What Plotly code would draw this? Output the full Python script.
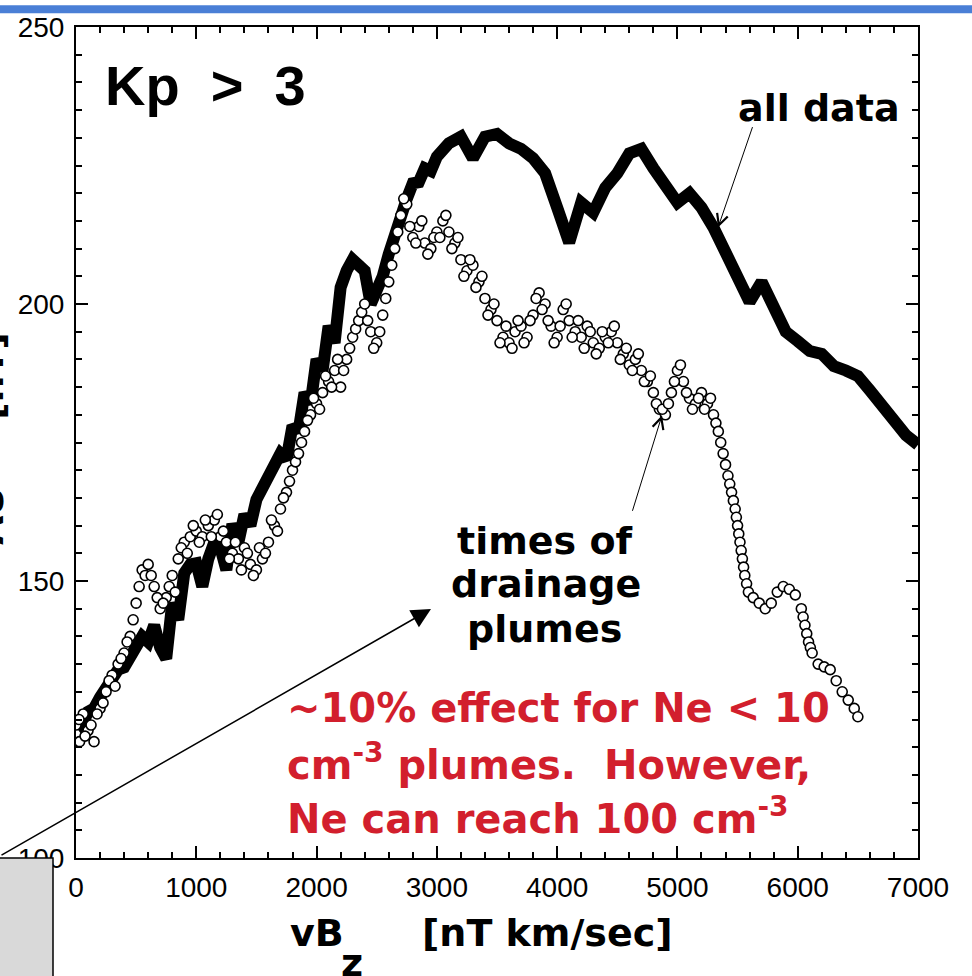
import plotly.graph_objects as go

# ---------------- data ----------------
all_x = [0, 50, 100, 150, 200, 250, 300, 350, 400, 450, 500, 550, 600, 650, 700, 750,
         800, 850, 900, 950, 1000, 1050, 1100, 1150, 1200, 1250, 1300, 1350, 1400, 1450,
         1500, 1550, 1600, 1650, 1700, 1750, 1800, 1850, 1900, 1950, 2000, 2050, 2100,
         2150, 2200, 2250, 2300, 2350, 2400, 2450, 2500, 2550, 2600, 2650, 2700, 2750,
         2800, 2850, 2900, 2950, 3000, 3100, 3200, 3300, 3400, 3500, 3600, 3700, 3800,
         3900, 4000, 4100, 4200, 4300, 4400, 4500, 4600, 4700, 4800, 4900, 5000, 5100,
         5200, 5300, 5400, 5500, 5600, 5700, 5800, 5900, 6000, 6100, 6200, 6300, 6400,
         6500, 6600, 6700, 6800, 6900, 7000]
all_y = [125.5, 124, 126.4, 127, 129, 131, 132.6, 134, 134.4, 136, 137.5, 140, 139, 142,
         138, 136, 146, 143, 151.4, 153, 153.2, 149, 154, 157, 156, 152, 160.3, 157, 162,
         160, 164.7, 167, 169, 171, 173, 172, 178, 177, 184, 182, 190, 188, 196, 193, 203,
         206, 208, 207, 206, 200, 202, 205, 209, 213, 216.5, 219, 221.8, 222, 224.5, 224,
         226.6, 229, 230.2, 226.3, 230.2, 230.7, 229, 228, 226.3, 223.6, 217.4, 211.1,
         218.3, 216.5, 221, 223.6, 227.2, 228, 224.5, 221.8, 218.3, 220, 217.4, 213.8,
         209.3, 204, 200.4, 204, 199.5, 195, 193.3, 191.5, 191, 188.8, 188, 187, 184.4,
         181.7, 179, 176.3, 174.6]

plume_x = [0, 30, 60, 100, 150, 200, 250, 300, 350, 400, 450, 475, 500, 525, 550, 600,
           650, 700, 750, 800, 850, 900, 950, 1000, 1050, 1100, 1150, 1200, 1250, 1300,
           1350, 1400, 1450, 1500, 1550, 1600, 1650, 1700, 1750, 1775, 1800, 1825, 1850,
           1900, 1950, 2000, 2050, 2100, 2150, 2200, 2250, 2300, 2325, 2350, 2375, 2400,
           2450, 2500, 2550, 2575, 2600, 2625, 2650, 2675, 2700, 2750, 2800, 2850, 2900,
           2950, 3000, 3050, 3100, 3150, 3200, 3250, 3300, 3350, 3400, 3450, 3500, 3550,
           3600, 3650, 3700, 3750, 3800, 3850, 3900, 3950, 4000, 4050, 4100, 4150, 4200,
           4250, 4300, 4350, 4400, 4450, 4500, 4550, 4600, 4650, 4700, 4750, 4800, 4850,
           4900, 4950, 5000, 5050, 5100, 5150, 5200, 5250, 5300, 5320, 5340, 5360, 5380,
           5400, 5420, 5435, 5450, 5465, 5480, 5490, 5500, 5510, 5520, 5530, 5540, 5550,
           5560, 5575, 5590, 5630, 5680, 5730, 5780, 5830, 5880, 5930, 5980, 6030, 6045,
           6060, 6075, 6090, 6105, 6120, 6170, 6220, 6270, 6320, 6370, 6420, 6470, 6500]
plume_y = [124, 121, 126, 123, 121, 127, 130, 133, 135, 137, 140, 143, 146, 149, 152, 153,
           149, 145, 147, 151, 154, 157, 158, 159, 158, 160, 161, 158, 157, 155,
           154, 156, 153, 152, 154, 157, 160, 163, 166, 168, 170, 171.5, 173,
           177, 180, 182, 184, 186, 188, 185, 190, 194, 195.5, 197, 198.5, 200,
           195, 193, 198, 201, 204, 207, 210, 213, 216, 218, 212, 214, 211,
           210, 213, 215, 213, 211, 208, 206, 207, 204, 201, 199, 197, 194,
           193, 195, 196, 194, 198, 202, 200, 196, 194, 199, 197, 195, 194,
           196, 193, 192, 194, 195, 193, 191, 189, 190, 188, 186, 184, 181,
           180, 184, 188, 186, 183, 182, 184, 182, 180, 178.5, 177, 175, 173,
           171, 169, 167.5, 166, 164.5, 163, 161.5, 160, 158.5, 157, 155.5, 154, 152.5,
           151, 149.5, 148, 147, 146, 145, 146, 148, 149, 148.5, 147.5, 145, 143.5,
           142, 140.5, 139, 138, 137, 135, 134.5, 134, 132, 130, 128.5, 127, 125.5]

# extra overlapping circles in the dense parts of the plume band
plume_extra_x = [25, 75, 125, 175, 225, 275, 325, 375, 425, 575, 625, 675, 725, 775,
                 825, 875, 925, 975, 1025, 1075, 1125, 1175, 1225, 1275, 1325, 1375,
                 1425, 1475, 1525, 1575, 1625, 1675, 1725, 1875, 1925, 1975, 2025, 2075,
                 2125, 2175, 2225, 2275, 2425, 2475, 2525, 2725, 2775, 2825, 2875, 2925,
                 2975, 3025, 3075, 3125, 3175, 3225, 3275, 3325, 3375, 3425, 3475, 3525,
                 3575, 3625, 3675, 3725, 3775, 3825, 3875, 3925, 3975, 4025, 4075, 4125,
                 4175, 4225, 4275, 4325, 4375, 4425, 4475, 4525, 4575, 4625, 4675, 4725,
                 4775, 4825, 4875, 4925, 4975, 5025, 5075, 5125, 5175, 5225, 5275]
plume_extra_y = [125, 122, 124, 126, 128, 132, 131, 136, 139, 151, 151, 147, 146, 149,
                 148, 156, 155, 160, 157, 161, 158, 162, 159, 154, 157, 152,
                 155, 151, 156, 155, 161, 159, 165, 175, 179, 183, 181, 187,
                 185, 190, 188, 192, 197, 192, 195, 219, 214, 211, 215, 209,
                 212, 212, 216, 210, 212, 205, 208, 203, 205, 198, 200, 193,
                 196, 192, 197, 193, 197, 201, 199, 197, 193, 196, 200, 194,
                 197, 192, 195, 191, 195, 193, 196, 190, 192, 188, 191, 186,
                 187, 182, 181, 182, 186, 189, 184, 181, 183, 181, 183]

x_ticks = [0, 1000, 2000, 3000, 4000, 5000, 6000, 7000]
y_ticks = [100, 150, 200, 250]

# ---------------- layout helpers (pixel -> paper) ----------------
L, R, T, B = 76, 918, 17, 858


def PX(px):
    return (px - L) / (R - L)


def PY(py):
    return (B - py) / (B - T)


fig = go.Figure()
fig.add_trace(go.Scatter(x=all_x, y=all_y, mode="lines",
                         line=dict(color="black", width=12), showlegend=False))
fig.add_trace(go.Scatter(x=plume_x + plume_extra_x, y=plume_y + plume_extra_y, mode="markers",
                         marker=dict(symbol="circle", size=10, color="white",
                                     line=dict(color="black", width=1.6)),
                         showlegend=False))

axis_common = dict(showline=True, linewidth=2, linecolor="black", mirror="allticks",
                   ticks="inside", ticklen=12, tickwidth=2, tickcolor="black",
                   showgrid=False, zeroline=False,
                   tickfont=dict(family="Liberation Sans", size=28, color="black"))

fig.update_xaxes(range=[0, 7000], tickmode="array", tickvals=x_ticks,
                 ticktext=[str(v) for v in x_ticks], ticklabelstandoff=3,
                 minor=dict(dtick=200, tick0=0, ticks="inside", ticklen=6, tickwidth=1.5,
                            tickcolor="black", showgrid=False),
                 **axis_common)
fig.update_yaxes(range=[100, 250], tickmode="array", tickvals=y_ticks,
                 ticktext=[str(v) for v in y_ticks], ticklabelstandoff=4,
                 minor=dict(dtick=5, tick0=100, ticks="inside", ticklen=6, tickwidth=1.5,
                            tickcolor="black", showgrid=False),
                 **axis_common)

BOLD = "DejaVu Sans"
RED = "#d21f2d"
ann = []


def text(px, py, s, size, color="black", family=BOLD, xanchor="center", angle=0):
    ann.append(dict(xref="paper", yref="paper", x=PX(px), y=PY(py), text="<b>" + s + "</b>",
                    showarrow=False, xanchor=xanchor, yanchor="middle", textangle=angle,
                    font=dict(family=family, size=size, color=color)))


text(103, 76, "Kp\u00a0\u00a0>\u00a0\u00a03", 56, family="Liberation Sans", xanchor="left")
text(819, 99, "all data", 38)
text(545, 537, "times of", 38)
text(546, 581, "drainage", 38)
text(544, 626, "plumes", 38)
text(285, 706, "~10% effect for Ne &lt; 10", 40, color=RED, xanchor="left")
text(285, 761, "cm<sup>-3</sup> plumes.\u00a0\u00a0However,", 40, color=RED, xanchor="left")
text(285, 816, "Ne can reach 100 cm<sup>-3</sup>", 40, color=RED, xanchor="left")
text(317, 934, "vB", 38)
text(352, 964, "z", 38)
text(547, 934, "[nT km/sec]", 38)
text(-10, 434, "AU\u00a0\u00a0\u00a0\u00a0\u00a0[nT]", 38, angle=-90)


def arrow(tip, tail, head, size, width):
    ann.append(dict(xref="paper", yref="paper", x=PX(tip[0]), y=PY(tip[1]), text="",
                    showarrow=True, axref="pixel", ayref="pixel",
                    ax=tail[0] - tip[0], ay=tail[1] - tip[1],
                    arrowhead=head, arrowsize=size, arrowwidth=width, arrowcolor="black",
                    standoff=0, startstandoff=0))


arrow((718, 220), (753, 118), 5, 2.2, 1)
arrow((662, 410), (632, 507), 5, 2.2, 1)
arrow((431, 606), (0, 853), 2, 2.6, 1.5)

shapes = [
    dict(type="rect", xref="paper", yref="paper", x0=PX(-5), x1=PX(972), y0=PY(3), y1=PY(-5),
         fillcolor="#4a7fd6", line=dict(width=0), layer="above"),
    dict(type="rect", xref="paper", yref="paper", x0=PX(-5), x1=PX(53), y0=PY(985), y1=PY(858),
         fillcolor="#d9d9d9", line=dict(color="black", width=1.5), layer="above"),
]

fig.update_layout(width=972, height=976, autosize=False,
                  margin=dict(l=L, r=972 - R, t=T, b=976 - B),
                  paper_bgcolor="white", plot_bgcolor="white",
                  annotations=ann, shapes=shapes, showlegend=False)

fig.write_html("out.html")
